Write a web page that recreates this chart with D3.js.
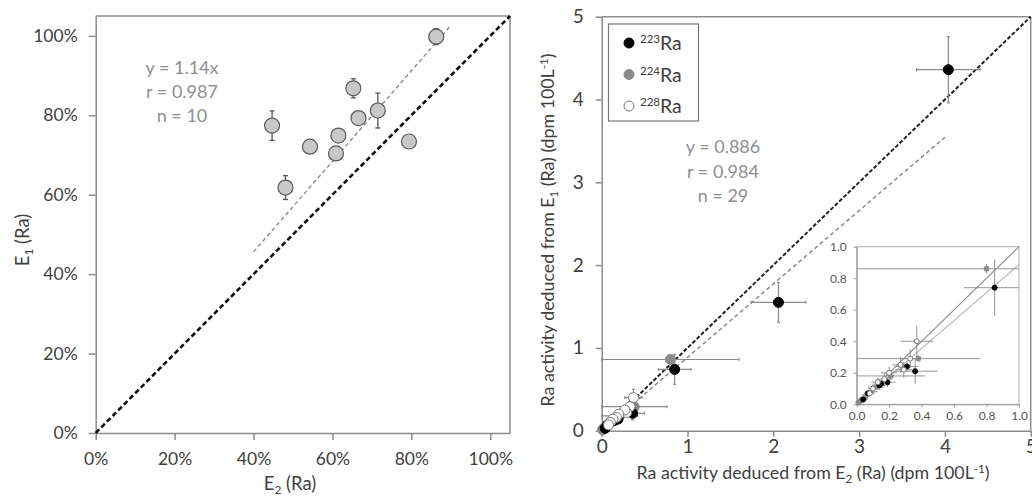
<!DOCTYPE html>
<html><head><meta charset="utf-8">
<script src="https://cdn.jsdelivr.net/npm/d3@7"></script>
<style>
body{margin:0;background:#fff;}
svg{display:block;font-family:Lato,"Open Sans",sans-serif;}
</style></head>
<body>
<svg id="c" width="1032" height="496"></svg>
<script>
// ---------- Left panel data ----------
const effE2 = [0.863, 0.653, 0.715, 0.666, 0.447, 0.615, 0.794, 0.543, 0.609, 0.481];
const effE1 = [0.998, 0.868, 0.812, 0.793, 0.774, 0.749, 0.734, 0.721, 0.704, 0.618];
const effE1err = [0.020, 0.024, 0.044, 0, 0.037, 0, 0, 0, 0, 0.030];
const effE2err = [0.015, 0, 0, 0, 0, 0, 0, 0, 0, 0];
const pctTicks = [0, 0.2, 0.4, 0.6, 0.8, 1.0];
const leftStats = ["y = 1.14x", "r = 0.987", "n = 10"];
const leftSlope = 1.14, leftFitRange = [0.4, 0.9];

// ---------- Right panel data ----------
const ra223x = [4.04, 2.06, 0.85, 0.36, 0.31, 0.19, 0.14, 0.15, 0.07, 0.04];
const ra223y = [4.36, 1.55, 0.74, 0.21, 0.24, 0.14, 0.12, 0.13, 0.07, 0.03];
const ra223xe = [0.37, 0.32, 0.19, 0.14, 0.07, 0.05, 0.04, 0.04, 0.02, 0.02];
const ra223ye = [0.40, 0.24, 0.18, 0.08, 0.03, 0.03, 0.03, 0.02, 0.02, 0.01];

const ra224x = [0.80, 0.38, 0.21, 0.12, 0.09, 0.06, 0.05, 0.03, 0.02, 0.01];
const ra224y = [0.86, 0.29, 0.18, 0.11, 0.08, 0.06, 0.04, 0.03, 0.02, 0.01];
const ra224xe = [0.80, 0.38, 0.21, 0.05, 0.04, 0.03, 0.02, 0.02, 0.01, 0.01];
const ra224ye = [0.03, 0.02, 0.02, 0.02, 0.02, 0.01, 0.01, 0.01, 0.01, 0.01];

const ra228x = [0.37, 0.33, 0.29, 0.27, 0.20, 0.17, 0.13, 0.10, 0.08];
const ra228y = [0.40, 0.29, 0.22, 0.25, 0.20, 0.16, 0.14, 0.10, 0.07];
const ra228xe = [0.10, 0.06, 0.05, 0.05, 0.05, 0.05, 0.04, 0.03, 0.03];
const ra228ye = [0.10, 0.06, 0.05, 0.05, 0.04, 0.04, 0.03, 0.03, 0.02];

const actTicks = [0, 1, 2, 3, 4, 5];
const insetTicks = [0, 0.2, 0.4, 0.6, 0.8, 1.0];
const rightStats = ["y = 0.886", "r = 0.984", "n = 29"];
const rightSlope = 0.886, rightFitRange = [0, 4];
const legendNames = [["223", "Ra"], ["224", "Ra"], ["228", "Ra"]];

const series = [
  {name: "224", x: ra224x, y: ra224y, xe: ra224xe, ye: ra224ye, fill: "#8a8a8a", stroke: "#8a8a8a"},
  {name: "223", x: ra223x, y: ra223y, xe: ra223xe, ye: ra223ye, fill: "#000", stroke: "#000"},
  {name: "228", x: ra228x, y: ra228y, xe: ra228xe, ye: ra228ye, fill: "#fff", stroke: "#777"}
];
const legendStyle = [series[1], series[0], series[2]];

const svg = d3.select("#c");
const AX = "#8c8c8c", TXT = "#404040", STAT = "#8f8f8f";

function styleAxis(g, fs) {
  g.select(".domain").attr("stroke", AX).attr("stroke-width", 1.5);
  g.selectAll(".tick line").attr("stroke", AX).attr("stroke-width", 1.5);
  g.selectAll(".tick text").attr("fill", TXT).attr("font-size", fs).attr("font-family", "Lato, sans-serif");
}

// ================= LEFT PANEL =================
const lx = d3.scaleLinear().domain([0, 1.05]).range([95.7, 510]);
const ly = d3.scaleLinear().domain([0, 1.05]).range([433, 16]);
const L = svg.append("g");

L.append("line").attr("x1", lx(0)).attr("x2", lx(1.05)).attr("y1", ly(1.05)).attr("y2", ly(1.05)).attr("stroke", AX).attr("stroke-width", 1.5);
L.append("line").attr("x1", lx(1.05)).attr("x2", lx(1.05)).attr("y1", ly(0)).attr("y2", ly(1.05)).attr("stroke", AX).attr("stroke-width", 1.5);

const lxa = L.append("g").attr("transform", `translate(0,${ly(0)})`)
  .call(d3.axisBottom(lx).tickValues(pctTicks).tickFormat(d3.format(".0%")).tickSize(7).tickPadding(13).tickSizeOuter(0));
styleAxis(lxa, 17.5);
const lya = L.append("g").attr("transform", `translate(${lx(0)},0)`)
  .call(d3.axisLeft(ly).tickValues(pctTicks).tickFormat(d3.format(".0%")).tickSize(7).tickPadding(11).tickSizeOuter(0));
styleAxis(lya, 17.5);

L.append("line").attr("x1", lx(0)).attr("y1", ly(0)).attr("x2", lx(1.05)).attr("y2", ly(1.05))
  .attr("stroke", "#111").attr("stroke-width", 2.6).attr("stroke-dasharray", "5,3");
L.append("line").attr("x1", lx(leftFitRange[0])).attr("y1", ly(leftSlope * leftFitRange[0]))
  .attr("x2", lx(leftFitRange[1])).attr("y2", ly(leftSlope * leftFitRange[1]))
  .attr("stroke", "#8a8a8a").attr("stroke-width", 1.4).attr("stroke-dasharray", "4,3");

const lpts = effE2.map((v, i) => ({x: v, y: effE1[i], ye: effE1err[i], xe: effE2err[i]}));
const eb = L.append("g").attr("stroke", "#555").attr("stroke-width", 1.3);
lpts.filter(d => d.ye > 0).forEach(d => {
  eb.append("line").attr("x1", lx(d.x)).attr("x2", lx(d.x)).attr("y1", ly(d.y - d.ye)).attr("y2", ly(d.y + d.ye));
  [d.y - d.ye, d.y + d.ye].forEach(v => eb.append("line").attr("x1", lx(d.x) - 2.5).attr("x2", lx(d.x) + 2.5).attr("y1", ly(v)).attr("y2", ly(v)));
});
lpts.filter(d => d.xe > 0).forEach(d => {
  eb.append("line").attr("y1", ly(d.y)).attr("y2", ly(d.y)).attr("x1", lx(d.x - d.xe)).attr("x2", lx(d.x + d.xe));
  [d.x - d.xe, d.x + d.xe].forEach(v => eb.append("line").attr("y1", ly(d.y) - 2.5).attr("y2", ly(d.y) + 2.5).attr("x1", lx(v)).attr("x2", lx(v)));
});
L.append("g").selectAll("circle").data(lpts).join("circle")
  .attr("cx", d => lx(d.x)).attr("cy", d => ly(d.y)).attr("r", 7.5)
  .attr("fill", "#c8c8c8").attr("stroke", "#5a5a5a").attr("stroke-width", 1.2);

L.append("g").selectAll("text").data(leftStats).join("text")
  .attr("x", 182).attr("y", (d, i) => 74 + i * 24).attr("text-anchor", "middle")
  .attr("fill", STAT).attr("font-size", 18).text(d => d);

const lxt = L.append("text").attr("x", 290).attr("y", 490).attr("text-anchor", "middle").attr("fill", TXT).attr("font-size", 18.5);
lxt.append("tspan").text("E");
lxt.append("tspan").attr("font-size", 12).attr("dy", 4).text("2");
lxt.append("tspan").attr("dy", -4).text(" (Ra)");
const lyt = L.append("text").attr("transform", "translate(29,240) rotate(-90)").attr("text-anchor", "middle").attr("fill", TXT).attr("font-size", 18.5);
lyt.append("tspan").text("E");
lyt.append("tspan").attr("font-size", 12).attr("dy", 4).text("1");
lyt.append("tspan").attr("dy", -4).text(" (Ra)");

// ================= RIGHT PANEL =================
const rx = d3.scaleLinear().domain([0, 5]).range([601.7, 1030.7]);
const ry = d3.scaleLinear().domain([0, 5]).range([430.7, 16.7]);
const R = svg.append("g");

R.append("line").attr("x1", rx(0)).attr("x2", rx(5)).attr("y1", ry(5)).attr("y2", ry(5)).attr("stroke", AX).attr("stroke-width", 1.5);
R.append("line").attr("x1", rx(5)).attr("x2", rx(5)).attr("y1", ry(0)).attr("y2", ry(5)).attr("stroke", AX).attr("stroke-width", 1.5);

const rxa = R.append("g").attr("transform", `translate(0,${ry(0)})`)
  .call(d3.axisBottom(rx).tickValues(actTicks).tickFormat(d3.format("d")).tickSize(6).tickPadding(3).tickSizeOuter(0));
styleAxis(rxa, 19);
const rya = R.append("g").attr("transform", `translate(${rx(0)},0)`)
  .call(d3.axisLeft(ry).tickValues(actTicks).tickFormat(d3.format("d")).tickSize(6).tickPadding(12).tickSizeOuter(0));
styleAxis(rya, 19);

R.append("line").attr("x1", rx(0)).attr("y1", ry(0)).attr("x2", rx(5)).attr("y2", ry(5))
  .attr("stroke", "#222").attr("stroke-width", 2).attr("stroke-dasharray", "4,2");
R.append("line").attr("x1", rx(rightFitRange[0])).attr("y1", ry(rightSlope * rightFitRange[0]))
  .attr("x2", rx(rightFitRange[1])).attr("y2", ry(rightSlope * rightFitRange[1]))
  .attr("stroke", "#8a8a8a").attr("stroke-width", 1.5).attr("stroke-dasharray", "4,3");

function drawSeries(g, xs, ys, r, cap, ew, clip) {
  const c = v => clip ? Math.max(clip[0], Math.min(clip[1], v)) : v;
  const e = g.append("g").attr("stroke", "#8a8a8a").attr("stroke-width", ew);
  series.forEach(s => {
    s.x.forEach((v, i) => {
      const y = s.y[i], xe = s.xe[i], ye = s.ye[i];
      e.append("line").attr("x1", xs(c(v - xe))).attr("x2", xs(c(v + xe))).attr("y1", ys(y)).attr("y2", ys(y));
      e.append("line").attr("x1", xs(v)).attr("x2", xs(v)).attr("y1", ys(c(y - ye))).attr("y2", ys(c(y + ye)));
      if (cap > 0) {
        [v - xe, v + xe].forEach(q => { if (!clip || (q >= clip[0] && q <= clip[1])) e.append("line").attr("x1", xs(q)).attr("x2", xs(q)).attr("y1", ys(y) - cap).attr("y2", ys(y) + cap); });
        [y - ye, y + ye].forEach(q => { if (!clip || (q >= clip[0] && q <= clip[1])) e.append("line").attr("y1", ys(q)).attr("y2", ys(q)).attr("x1", xs(v) - cap).attr("x2", xs(v) + cap); });
      }
    });
  });
  series.forEach(s => {
    g.append("g").selectAll("circle").data(s.x.map((v, i) => [v, s.y[i]])).join("circle")
      .attr("cx", d => xs(d[0])).attr("cy", d => ys(d[1])).attr("r", r)
      .attr("fill", s.fill).attr("stroke", s.stroke).attr("stroke-width", 1);
  });
}
drawSeries(R, rx, ry, 5, 1.5, 1.2, null);

const lg = R.append("g");
lg.append("rect").attr("x", 608.5).attr("y", 24).attr("width", 90).attr("height", 97)
  .attr("fill", "#fff").attr("stroke", "#777").attr("stroke-width", 1.2);
legendNames.forEach((n, i) => {
  const cy = 43 + i * 31.5;
  lg.append("circle").attr("cx", 629).attr("cy", cy).attr("r", 5)
    .attr("fill", legendStyle[i].fill).attr("stroke", legendStyle[i].stroke).attr("stroke-width", 1);
  const t = lg.append("text").attr("x", 640).attr("y", cy + 7).attr("fill", TXT).attr("font-size", 19.5);
  t.append("tspan").attr("font-size", 11.5).attr("dy", -7).text(n[0]);
  t.append("tspan").attr("dy", 7).text(n[1]);
});

R.append("g").selectAll("text").data(rightStats).join("text")
  .attr("x", 723).attr("y", (d, i) => 153 + i * 24.5).attr("text-anchor", "middle")
  .attr("fill", STAT).attr("font-size", 18).text(d => d);

const rxt = R.append("text").attr("x", 813).attr("y", 479).attr("text-anchor", "middle").attr("fill", TXT).attr("font-size", 17.8);
rxt.append("tspan").text("Ra activity deduced from E");
rxt.append("tspan").attr("font-size", 11.5).attr("dy", 4).text("2");
rxt.append("tspan").attr("dy", -4).text(" (Ra) (dpm 100L");
rxt.append("tspan").attr("font-size", 11.5).attr("dy", -6).text("-1");
rxt.append("tspan").attr("dy", 6).text(")");
const ryt = R.append("text").attr("transform", "translate(554,230) rotate(-90)").attr("text-anchor", "middle").attr("fill", TXT).attr("font-size", 17.8);
ryt.append("tspan").text("Ra activity deduced from E");
ryt.append("tspan").attr("font-size", 11.5).attr("dy", 4).text("1");
ryt.append("tspan").attr("dy", -4).text(" (Ra) (dpm 100L");
ryt.append("tspan").attr("font-size", 11.5).attr("dy", -6).text("-1");
ryt.append("tspan").attr("dy", 6).text(")");

// ================= INSET =================
const ix = d3.scaleLinear().domain([0, 1]).range([856.7, 1019]);
const iy = d3.scaleLinear().domain([0, 1]).range([404.3, 246.7]);
const I = svg.append("g");
I.append("rect").attr("x", ix(0)).attr("y", iy(1)).attr("width", ix(1) - ix(0)).attr("height", iy(0) - iy(1))
  .attr("fill", "#fff").attr("stroke", "#b0b0b0").attr("stroke-width", 1);
const ixa = I.append("g").attr("transform", `translate(0,${iy(0)})`)
  .call(d3.axisBottom(ix).tickValues(insetTicks).tickFormat(d3.format(".1f")).tickSize(3).tickPadding(4).tickSizeOuter(0));
const iya = I.append("g").attr("transform", `translate(${ix(0)},0)`)
  .call(d3.axisLeft(iy).tickValues(insetTicks).tickFormat(d3.format(".1f")).tickSize(3).tickPadding(7).tickSizeOuter(0));
[ixa, iya].forEach(g => {
  g.select(".domain").attr("stroke", "#999").attr("stroke-width", 1);
  g.selectAll(".tick line").attr("stroke", "#999");
  g.selectAll(".tick text").attr("fill", "#555").attr("font-size", 12).attr("font-family", "Lato, sans-serif");
});
I.append("line").attr("x1", ix(0)).attr("y1", iy(0)).attr("x2", ix(1)).attr("y2", iy(1)).attr("stroke", "#888").attr("stroke-width", 1.1);
I.append("line").attr("x1", ix(0)).attr("y1", iy(0)).attr("x2", ix(1)).attr("y2", iy(rightSlope)).attr("stroke", "#b5b5b5").attr("stroke-width", 1.1);
drawSeries(I, ix, iy, 2.5, 0, 0.9, [0, 1]);
</script>
</body></html>
